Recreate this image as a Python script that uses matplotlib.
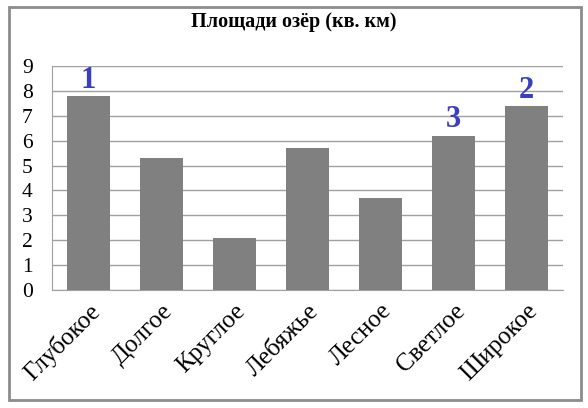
import matplotlib.pyplot as plt
from matplotlib.patches import Rectangle

# Площади озёр
ozera = ['Глубокое', 'Долгое', 'Круглое', 'Лебяжье', 'Лесное', 'Светлое', 'Широкое']
ploshchadi = [7.8, 5.3, 2.1, 5.7, 3.7, 6.2, 7.4]
mesta = {0: '1', 6: '2', 5: '3'}
yticks = list(range(0, 10))

plt.rcParams['font.family'] = ['Liberation Serif', 'DejaVu Serif']

fig = plt.figure(figsize=(5.88, 4.08), dpi=100)
ax = fig.add_axes([52 / 588, 1 - 290 / 408, (563 - 52) / 588, (290 - 66) / 408])

fig.patches.append(Rectangle((9 / 588, 1 - 400 / 408), (581 - 9) / 588, (400 - 7) / 408,
                             transform=fig.transFigure, fill=False,
                             edgecolor='#8c8c8c', linewidth=2))

x = range(len(ozera))
ax.bar(x, ploshchadi, width=0.58, color='#808080', zorder=3)

for i, txt in mesta.items():
    ax.text(i, ploshchadi[i] + 0.05, txt, ha='center', va='bottom',
            fontsize=22, fontweight='bold', color='#3a3fc0')

ax.set_ylim(0, 9)
ax.set_xlim(-0.5, len(ozera) - 0.5)
ax.set_yticks(yticks)
ax.set_yticklabels([str(v) for v in yticks], fontsize=15.5)
ax.yaxis.grid(True, color='#a0a0a0', linewidth=1)
ax.set_axisbelow(True)
ax.tick_params(axis='y', length=0, pad=14)
ax.tick_params(axis='x', length=0, pad=7)
ax.set_xticks(list(x))
ax.set_xticklabels(ozera, rotation=45, ha='right', rotation_mode='anchor', fontsize=18)

for s in ['top', 'right']:
    ax.spines[s].set_visible(False)
ax.spines['left'].set_color('#a0a0a0')
ax.spines['bottom'].set_color('#a0a0a0')

fig.text(0.5, 1 - 22 / 408, 'Площади озёр (кв. км)', ha='center', va='center',
         fontsize=14.5, fontweight='bold')

fig.savefig('out.png', dpi=100)
